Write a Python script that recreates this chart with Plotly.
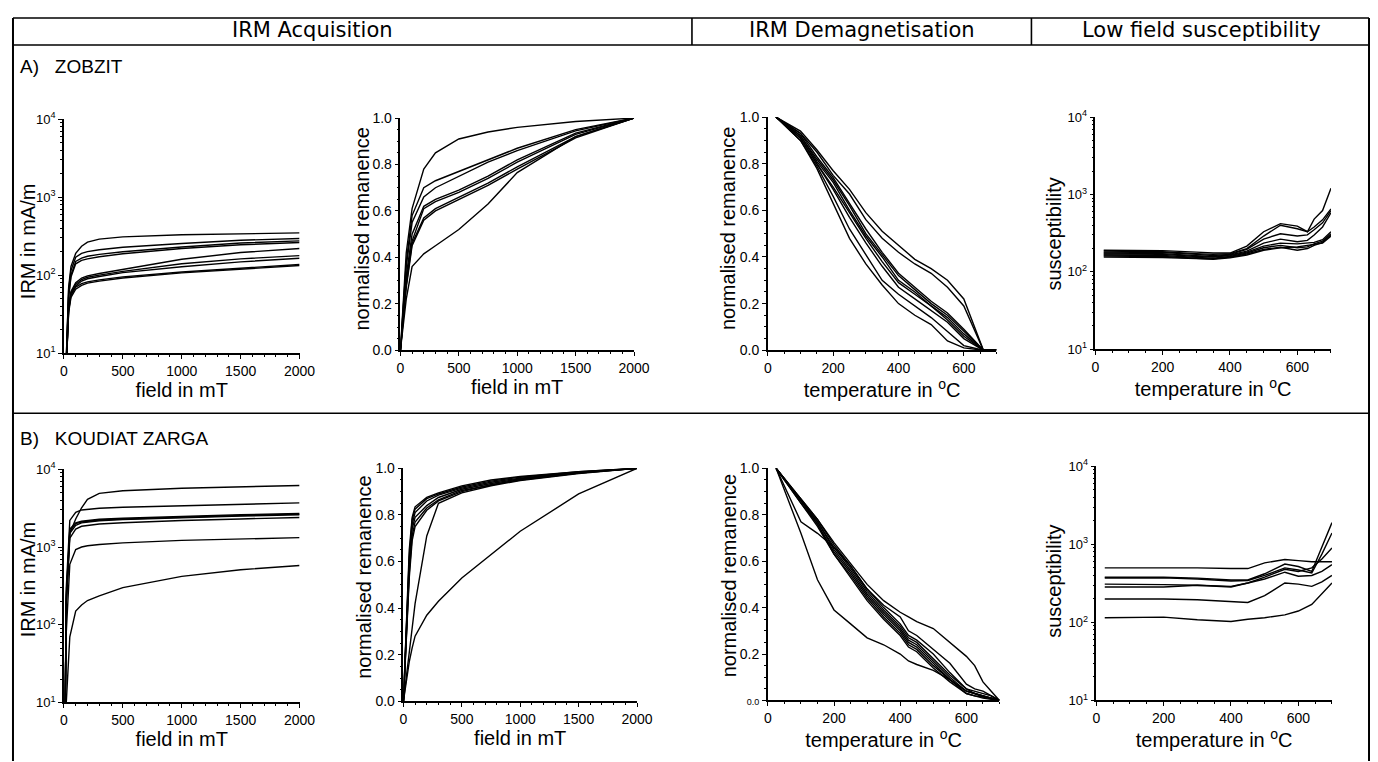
import plotly.graph_objects as go

# ---------------- DATA ----------------
# A) ZOBZIT
fields_a_irm = [10, 20, 40, 60, 100, 150, 200, 300, 500, 1000, 1500, 2000]
zobzit_irm = [
    [3, 8, 70, 130, 190, 235, 265, 290, 310, 330, 340, 348],
    [3, 8, 65, 115, 170, 190, 200, 212, 228, 255, 280, 295],
    [3, 8, 55, 100, 150, 165, 175, 185, 200, 230, 258, 275],
    [3, 8, 52, 95, 140, 155, 162, 172, 188, 220, 245, 262],
    [3, 8, 40, 62, 80, 92, 98, 105, 118, 160, 195, 220],
    [3, 8, 38, 60, 76, 88, 94, 100, 112, 140, 162, 178],
    [3, 8, 36, 58, 72, 84, 90, 96, 108, 128, 148, 165],
    [3, 8, 35, 55, 70, 78, 82, 87, 95, 110, 124, 137],
    [3, 8, 33, 52, 66, 74, 79, 84, 92, 107, 120, 133],
]

fields_a_norm = [0, 25, 50, 100, 200, 300, 500, 750, 1000, 1500, 2000]
zobzit_norm = [
    [0, 0.20, 0.42, 0.61, 0.78, 0.85, 0.91, 0.94, 0.96, 0.985, 1.0],
    [0, 0.18, 0.38, 0.58, 0.70, 0.73, 0.77, 0.82, 0.87, 0.95, 1.0],
    [0, 0.17, 0.36, 0.55, 0.66, 0.70, 0.75, 0.81, 0.86, 0.945, 1.0],
    [0, 0.15, 0.32, 0.50, 0.62, 0.65, 0.69, 0.75, 0.82, 0.935, 1.0],
    [0, 0.14, 0.30, 0.47, 0.61, 0.64, 0.68, 0.74, 0.81, 0.93, 1.0],
    [0, 0.13, 0.28, 0.46, 0.57, 0.61, 0.66, 0.72, 0.79, 0.92, 1.0],
    [0, 0.13, 0.27, 0.45, 0.56, 0.60, 0.65, 0.71, 0.78, 0.915, 1.0],
    [0, 0.10, 0.22, 0.36, 0.415, 0.45, 0.52, 0.63, 0.765, 0.92, 1.0],
]

temps_a_demag = [25, 100, 150, 200, 250, 300, 350, 400, 450, 500, 550, 600, 660, 700]
zobzit_demag = [
    [1, 0.94, 0.86, 0.77, 0.69, 0.59, 0.51, 0.45, 0.39, 0.35, 0.30, 0.22, 0.0, 0.0],
    [1, 0.93, 0.85, 0.75, 0.67, 0.56, 0.48, 0.42, 0.37, 0.33, 0.27, 0.19, 0.0, 0.0],
    [1, 0.93, 0.83, 0.74, 0.63, 0.52, 0.42, 0.33, 0.27, 0.21, 0.16, 0.09, 0.0, 0.0],
    [1, 0.92, 0.82, 0.73, 0.62, 0.50, 0.41, 0.32, 0.26, 0.20, 0.15, 0.08, 0.0, 0.0],
    [1, 0.92, 0.81, 0.72, 0.60, 0.49, 0.40, 0.30, 0.25, 0.19, 0.14, 0.07, 0.0, 0.0],
    [1, 0.91, 0.80, 0.70, 0.59, 0.48, 0.38, 0.29, 0.24, 0.19, 0.13, 0.06, 0.0, 0.0],
    [1, 0.91, 0.80, 0.69, 0.57, 0.46, 0.36, 0.27, 0.22, 0.17, 0.12, 0.05, 0.0, 0.0],
    [1, 0.90, 0.79, 0.66, 0.52, 0.41, 0.30, 0.24, 0.19, 0.14, 0.08, 0.02, 0.0, 0.0],
    [1, 0.90, 0.78, 0.63, 0.48, 0.37, 0.28, 0.20, 0.15, 0.11, 0.04, 0.01, 0.0, 0.0],
]

temps_a_susc = [25, 100, 200, 300, 350, 400, 450, 500, 550, 600, 630, 650, 675, 700]
zobzit_susc = [
    [190, 190, 188, 180, 175, 175, 215, 330, 420, 390, 330, 480, 620, 1200],
    [185, 185, 182, 172, 168, 172, 200, 290, 400, 360, 330, 380, 470, 650],
    [180, 180, 178, 168, 163, 168, 195, 265, 310, 290, 300, 350, 430, 620],
    [175, 175, 172, 162, 158, 165, 185, 235, 265, 245, 255, 300, 380, 580],
    [170, 170, 168, 158, 155, 162, 180, 215, 235, 230, 235, 240, 260, 330],
    [165, 165, 163, 154, 150, 158, 175, 205, 220, 205, 210, 230, 250, 310],
    [160, 160, 158, 150, 147, 155, 170, 195, 208, 190, 200, 220, 240, 300],
    [155, 155, 153, 148, 145, 152, 165, 190, 205, 210, 220, 225, 235, 290],
]

# B) KOUDIAT ZARGA
fields_b_irm = [8, 20, 50, 100, 150, 200, 300, 500, 1000, 1500, 2000]
koudiat_irm = [
    [3, 200, 1500, 2300, 3200, 4100, 4900, 5300, 5700, 6000, 6200],
    [3, 300, 2200, 2800, 3000, 3050, 3150, 3250, 3400, 3550, 3700],
    [3, 250, 1700, 2050, 2150, 2200, 2280, 2350, 2480, 2600, 2700],
    [3, 230, 1600, 2000, 2100, 2150, 2230, 2300, 2430, 2550, 2650],
    [3, 200, 1500, 1900, 2050, 2100, 2180, 2250, 2380, 2500, 2600],
    [3, 180, 1300, 1700, 1850, 1900, 1980, 2050, 2200, 2300, 2400],
    [3, 80, 600, 930, 1000, 1040, 1080, 1130, 1220, 1270, 1320],
    [3, 10, 70, 150, 180, 205, 235, 300, 420, 510, 580],
]

fields_b_norm = [0, 25, 50, 75, 100, 200, 300, 500, 750, 1000, 1500, 2000]
koudiat_norm = [
    [0, 0.35, 0.65, 0.79, 0.835, 0.875, 0.895, 0.925, 0.95, 0.965, 0.985, 1.0],
    [0, 0.33, 0.62, 0.78, 0.825, 0.87, 0.89, 0.92, 0.945, 0.962, 0.985, 1.0],
    [0, 0.30, 0.60, 0.76, 0.81, 0.86, 0.885, 0.915, 0.94, 0.958, 0.983, 1.0],
    [0, 0.28, 0.57, 0.74, 0.79, 0.84, 0.875, 0.91, 0.935, 0.955, 0.982, 1.0],
    [0, 0.26, 0.55, 0.71, 0.77, 0.83, 0.865, 0.905, 0.93, 0.952, 0.98, 1.0],
    [0, 0.25, 0.53, 0.69, 0.75, 0.82, 0.86, 0.90, 0.93, 0.95, 0.98, 1.0],
    [0, 0.10, 0.22, 0.32, 0.42, 0.71, 0.85, 0.895, 0.925, 0.948, 0.978, 1.0],
    [0, 0.09, 0.17, 0.23, 0.28, 0.37, 0.43, 0.53, 0.63, 0.73, 0.89, 1.0],
]

temps_b_demag = [25, 100, 150, 200, 250, 300, 350, 400, 425, 450, 500, 550, 600, 625, 650, 675, 700]
koudiat_demag = [
    [1, 0.87, 0.78, 0.68, 0.59, 0.50, 0.43, 0.38, 0.36, 0.34, 0.31, 0.25, 0.19, 0.15, 0.08, 0.04, 0.0],
    [1, 0.87, 0.78, 0.67, 0.58, 0.48, 0.41, 0.36, 0.30, 0.28, 0.22, 0.16, 0.07, 0.05, 0.04, 0.02, 0.0],
    [1, 0.86, 0.77, 0.66, 0.57, 0.47, 0.39, 0.32, 0.27, 0.25, 0.18, 0.11, 0.05, 0.03, 0.02, 0.01, 0.0],
    [1, 0.86, 0.77, 0.65, 0.56, 0.46, 0.38, 0.31, 0.26, 0.24, 0.17, 0.10, 0.04, 0.03, 0.02, 0.01, 0.0],
    [1, 0.86, 0.76, 0.64, 0.55, 0.45, 0.37, 0.30, 0.25, 0.23, 0.16, 0.09, 0.04, 0.03, 0.02, 0.01, 0.0],
    [1, 0.85, 0.76, 0.63, 0.54, 0.44, 0.36, 0.29, 0.24, 0.22, 0.15, 0.09, 0.03, 0.02, 0.015, 0.01, 0.0],
    [1, 0.85, 0.75, 0.63, 0.53, 0.43, 0.35, 0.28, 0.23, 0.21, 0.14, 0.08, 0.03, 0.02, 0.01, 0.005, 0.0],
    [1, 0.77, 0.72, 0.66, 0.58, 0.48, 0.40, 0.33, 0.28, 0.26, 0.20, 0.12, 0.05, 0.04, 0.03, 0.02, 0.0],
    [1, 0.72, 0.52, 0.39, 0.33, 0.27, 0.24, 0.20, 0.17, 0.155, 0.13, 0.09, 0.04, 0.03, 0.015, 0.008, 0.0],
]

temps_b_susc = [25, 100, 200, 300, 400, 450, 500, 560, 600, 640, 670, 700]
koudiat_susc = [
    [500, 500, 505, 500, 490, 490, 580, 640, 620, 600, 600, 600],
    [380, 380, 380, 370, 350, 350, 420, 560, 520, 450, 900, 1900],
    [370, 370, 372, 360, 340, 345, 400, 500, 470, 430, 750, 1400],
    [310, 310, 305, 300, 285, 320, 380, 480, 450, 500, 650, 900],
    [285, 285, 285, 300, 290, 320, 360, 440, 390, 400, 450, 550],
    [200, 200, 200, 195, 185, 180, 220, 320, 310, 290, 330, 400],
    [115, 115, 117, 108, 103, 110, 115, 125, 140, 170, 230, 320],
]

column_titles = ["IRM Acquisition", "IRM Demagnetisation", "Low field susceptibility"]
row_titles = ["A)   ZOBZIT", "B)   KOUDIAT ZARGA"]
y_titles = ["IRM in mA/m", "normalised remanence", "normalised remanence", "susceptibility"] * 2

# ---------------- LAYOUT ----------------
FONT = "Liberation Sans, Arial, Helvetica, sans-serif"
HEADFONT = "DejaVu Sans, Liberation Sans, Arial, sans-serif"

W, H = 1378, 762
# the page places the figure at (11, 16) and scales it by (0.987, 0.977) in the picture
SX, SY, OX, OY = 0.987, 0.977, 11, 16

def px(x):
    return min(max((x - OX) / SX, 1), W - 1) / W

def py(y):
    return 1 - min(max((y - OY) / SY, 1), H - 1) / H

# panel boxes in picture pixels: (x0, x1, ytop, ybottom)
boxes = [
    (63, 299, 118, 352), (400, 634, 117, 349), (768, 997, 116, 349), (1096, 1332, 116, 348),
    (63, 299, 468, 701), (403, 637, 467, 700), (768, 1000, 467, 699), (1097, 1333, 465, 699),
]
ytitle_pos = [(27, 240), (362, 228), (728, 227), (1055, 233),
              (27, 578), (364, 576), (729, 574), (1055, 580)]

panels = [
    (fields_a_irm, zobzit_irm, "irm"),
    (fields_a_norm, zobzit_norm, "norm"),
    (temps_a_demag, zobzit_demag, "demag"),
    (temps_a_susc, zobzit_susc, "susc"),
    (fields_b_irm, koudiat_irm, "irm"),
    (fields_b_norm, koudiat_norm, "norm"),
    (temps_b_demag, koudiat_demag, "demag"),
    (temps_b_susc, koudiat_susc, "susc"),
]

fig = go.Figure()
layout = dict(
    width=W, height=H, margin=dict(l=0, r=0, t=0, b=0), autosize=False,
    paper_bgcolor="white", plot_bgcolor="white", showlegend=False,
    font=dict(family=FONT, color="black", size=14),
)

log_major = [10, 100, 1000, 10000]
log_text = ["10<sup>1</sup>", "10<sup>2</sup>", "10<sup>3</sup>", "10<sup>4</sup>"]
log_minor = [m * d for d in (10, 100, 1000) for m in range(2, 10)]

TICKFONT = dict(family=FONT, size=14, color="black")
LOGTICKFONT = dict(family=FONT, size=13, color="black")
TITLEFONT = dict(family=FONT, size=20, color="black")

annotations = []
for i, ((xv, series, kind), (x0, x1, yt, yb)) in enumerate(zip(panels, boxes)):
    n = i + 1
    xa = "x" if n == 1 else f"x{n}"
    ya = "y" if n == 1 else f"y{n}"
    for s in series:
        fig.add_trace(go.Scatter(x=xv, y=s, mode="lines", xaxis=xa, yaxis=ya,
                                 line=dict(color="black", width=1.4), hoverinfo="skip"))
    xkey = "xaxis" if n == 1 else f"xaxis{n}"
    ykey = "yaxis" if n == 1 else f"yaxis{n}"
    common = dict(showline=True, linecolor="black", linewidth=1.5, showgrid=False,
                  zeroline=False, ticks="outside", ticklen=4, tickwidth=1.2,
                  tickcolor="black", tickfont=TICKFONT)
    if kind in ("irm", "norm"):
        xaxis = dict(common, domain=[px(x0), px(x1)], anchor=ya, range=[0, 2000],
                     tickvals=[0, 500, 1000, 1500, 2000],
                     minor=dict(ticks="outside", ticklen=2, dtick=100, tick0=0, tickcolor="black"),
                     title=dict(text="field in mT", font=TITLEFONT, standoff=2))
    else:
        xaxis = dict(common, domain=[px(x0), px(x1)], anchor=ya, range=[0, 700],
                     tickvals=[0, 200, 400, 600],
                     minor=dict(ticks="outside", ticklen=2, dtick=50, tick0=0, tickcolor="black"),
                     title=dict(text="temperature in <sup>o</sup>C", font=TITLEFONT, standoff=0))
    if kind in ("irm", "susc"):
        yaxis = dict(common, domain=[py(yb), py(yt)], anchor=xa, type="log", range=[1, 4],
                     tickmode="array", tickvals=log_major, ticktext=log_text,
                     tickfont=LOGTICKFONT,
                     minor=dict(ticks="outside", ticklen=2, tickmode="array",
                                tickvals=log_minor, tickcolor="black"))
    else:
        if n == 7:
            ttext = ['<span style="font-size:9px">0.0</span>', "0.2", "0.4", "0.6", "0.8", "1.0"]
        else:
            ttext = ["0.0", "0.2", "0.4", "0.6", "0.8", "1.0"]
        yaxis = dict(common, domain=[py(yb), py(yt)], anchor=xa, range=[0, 1],
                     tickmode="array", tickvals=[0, 0.2, 0.4, 0.6, 0.8, 1.0], ticktext=ttext,
                     minor=dict(ticks="outside", ticklen=2, dtick=0.05, tick0=0, tickcolor="black"))
    layout[xkey] = xaxis
    layout[ykey] = yaxis
    tx, ty = ytitle_pos[i]
    annotations.append(dict(text=y_titles[i], x=px(tx), y=py(ty), xref="paper", yref="paper",
                            showarrow=False, textangle=-90, xanchor="center", yanchor="middle",
                            font=TITLEFONT))

# table frame
shapes = []
def seg(xa_, ya_, xb_, yb_, w=1.6):
    shapes.append(dict(type="line", xref="paper", yref="paper",
                       x0=px(xa_), y0=py(ya_), x1=px(xb_), y1=py(yb_),
                       line=dict(color="black", width=w)))
seg(7, 8, 1372, 8)          # top
seg(7, 44, 1372, 44)        # header bottom
seg(7, 412, 1372, 412)      # row separator
seg(7, 8, 7, 762, 2)        # left
seg(1372, 8, 1372, 762, 2)  # right
seg(692, 8, 692, 44)
seg(1032, 8, 1032, 44)
layout["shapes"] = shapes

for text, cx in zip(column_titles, [312, 862, 1202]):
    annotations.append(dict(text=text, x=px(cx), y=py(29), xref="paper", yref="paper",
                            showarrow=False, xanchor="center", yanchor="middle",
                            font=dict(family=HEADFONT, size=21, color="black")))
for text, cy in zip(row_titles, [65, 437]):
    annotations.append(dict(text=text.replace("   ", "&nbsp;&nbsp;&nbsp;"), x=px(17), y=py(cy),
                            xref="paper", yref="paper", showarrow=False,
                            xanchor="left", yanchor="middle",
                            font=dict(family=FONT, size=19, color="black")))
layout["annotations"] = annotations

fig.update_layout(**layout)
fig.write_html("out.html")
